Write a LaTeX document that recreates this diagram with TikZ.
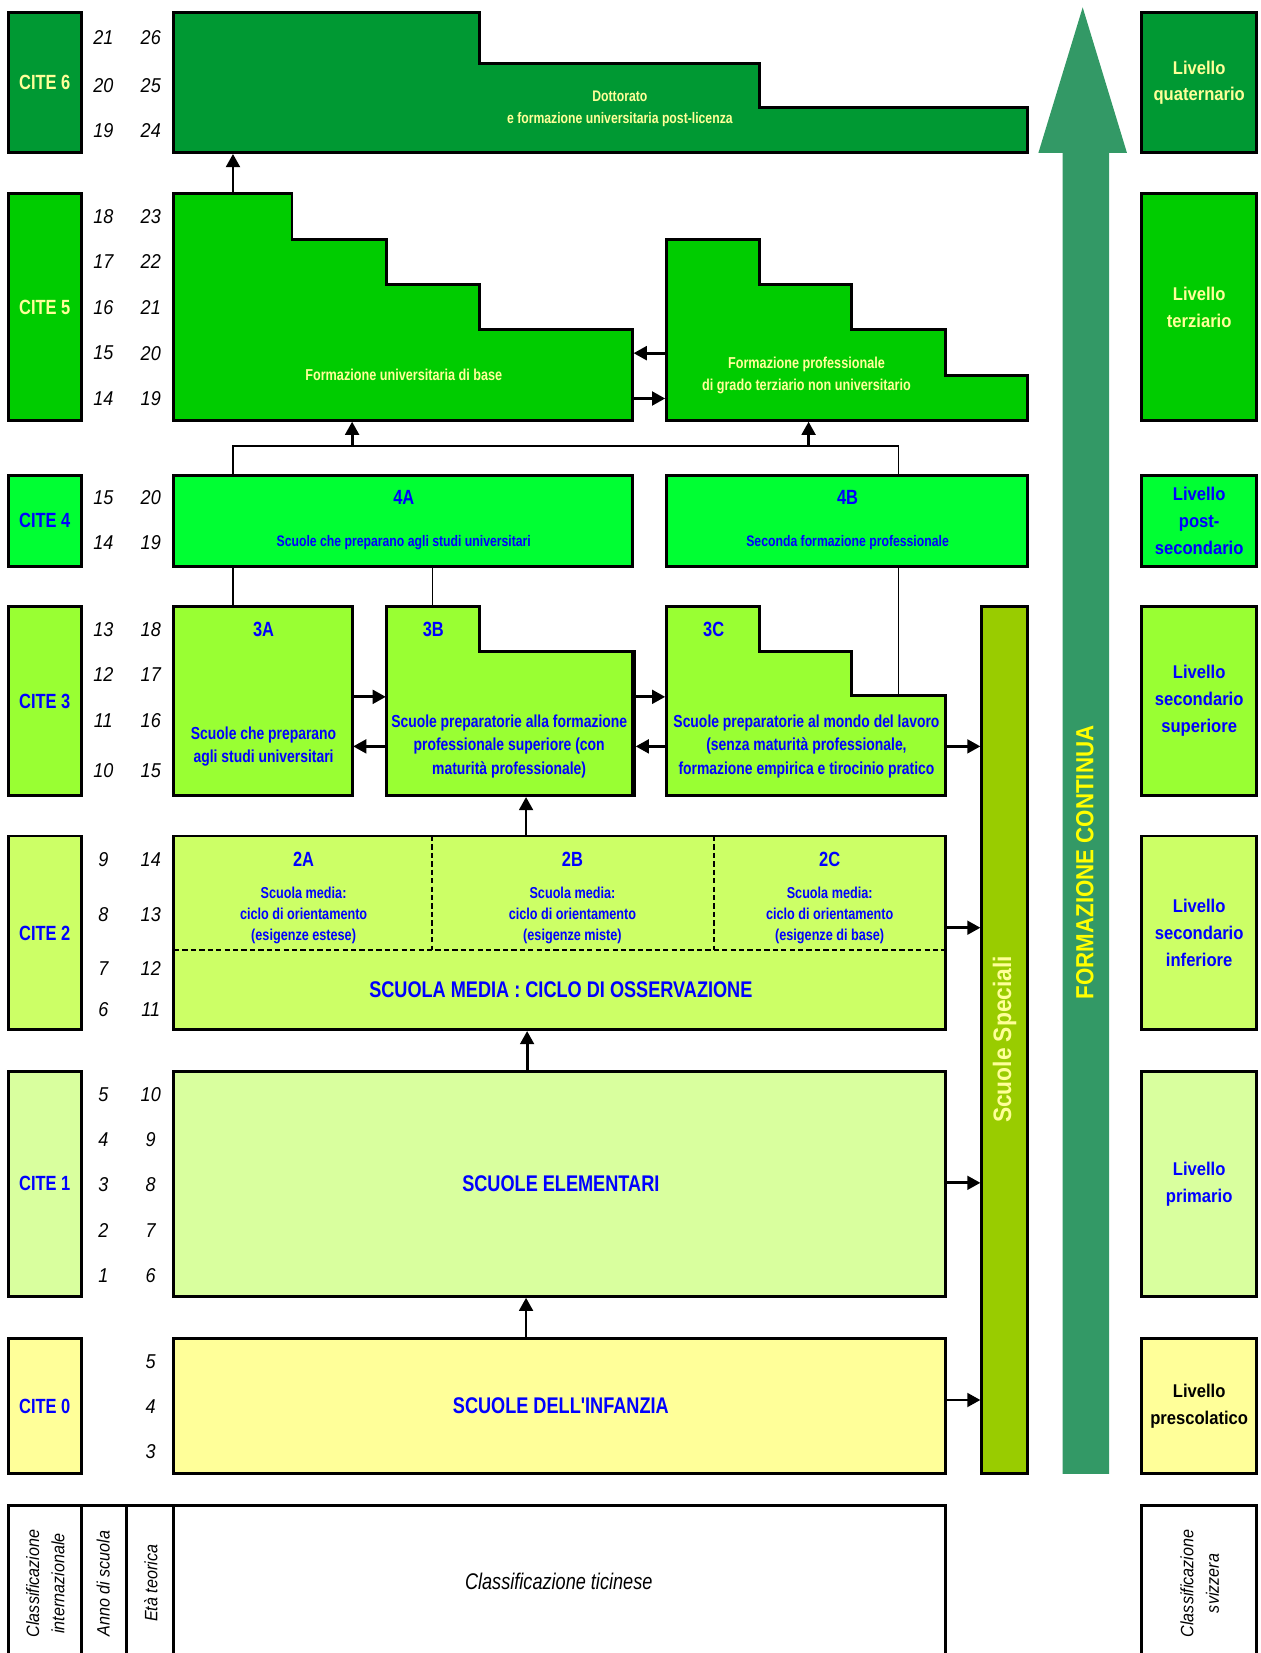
\documentclass[tikz,border=0pt]{standalone}
\usepackage{fontspec}
\setmainfont{Liberation Sans}
\newfontfamily\nf[FakeStretch=0.80]{Liberation Sans}
\newfontfamily\rf[FakeStretch=0.90]{Liberation Sans}
\usetikzlibrary{arrows.meta}
\definecolor{gSix}{RGB}{0,153,51}
\definecolor{gFive}{RGB}{0,204,0}
\definecolor{gFour}{RGB}{0,255,51}
\definecolor{gThree}{RGB}{153,255,51}
\definecolor{gTwo}{RGB}{204,255,102}
\definecolor{gOne}{RGB}{217,255,158}
\definecolor{gZero}{RGB}{255,255,153}
\definecolor{specc}{RGB}{153,204,0}
\definecolor{contc}{RGB}{51,153,102}
\definecolor{ltyel}{RGB}{255,255,153}
\definecolor{yel}{RGB}{255,255,0}
\definecolor{blu}{RGB}{0,0,255}
\newcommand\bxn[7]{%
  \node[#6, minimum width={(#4-#2)*1pt}, minimum height={(#5-#3)*1pt}] (#1) at ({(#2+#4)/2},{(#3+#5)/2}) {#7};}
\begin{document}
\begin{tikzpicture}[x=1pt,y=-1pt,
  cbox/.style={draw, line width=2.8pt, inner sep=0pt, font=\nf\bfseries\fontsize{19.5}{22}\selectfont},
  lbox/.style={draw, line width=2.8pt, inner sep=0pt, align=center, font=\rf\bfseries\fontsize{17.5}{25.5}\selectfont},
  ebox/.style={draw, line width=2.8pt, inner sep=0pt},
  pbox/.style={draw, line width=2.8pt, line join=miter},
  num/.style={font=\rf\itshape\fontsize{19}{22}\selectfont, inner sep=0pt},
  lab/.style={text=blu, font=\nf\bfseries\fontsize{19.5}{22}\selectfont, inner sep=0pt},
  subt/.style={text=blu, align=center, font=\nf\bfseries\fontsize{15}{20}\selectfont, inner sep=0pt},
  midt/.style={text=blu, align=center, font=\nf\bfseries\fontsize{16.5}{22}\selectfont, inner sep=0pt},
  bigt/.style={text=blu, font=\nf\bfseries\fontsize{21.5}{24}\selectfont, inner sep=0pt},
  ytxt/.style={text=ltyel, align=center, font=\nf\bfseries\fontsize{14.5}{20.5}\selectfont, inner sep=0pt},
  arr/.style={line width=2.7pt, -{Triangle[length=12.5pt,width=13pt]}},
  thinl/.style={line width=1.3pt},
  legl/.style={line width=2.8pt, line join=miter},
  legt/.style={align=center, font=\rf\itshape\fontsize{17}{24}\selectfont, inner sep=0pt}
]
\useasboundingbox (0,0) rectangle (1196,1568);

% ---------- CITE boxes (left) ----------
\bxn{c6}{8}{12}{77}{145}{cbox,fill=gSix,text=ltyel}{CITE 6}
\bxn{c5}{8}{184}{77}{399}{cbox,fill=gFive,text=ltyel}{CITE 5}
\bxn{c4}{8}{451}{77}{537}{cbox,fill=gFour,text=blu}{CITE 4}
\bxn{c3}{8}{575}{77}{755}{cbox,fill=gThree,text=blu}{CITE 3}
\bxn{c2}{8}{793}{77}{977}{cbox,fill=gTwo,text=blu}{CITE 2}
\bxn{c1}{8}{1016}{77}{1230}{cbox,fill=gOne,text=blu}{CITE 1}
\bxn{c0}{8}{1270}{77}{1398}{cbox,fill=gZero,text=blu}{CITE 0}

% ---------- years / ages ----------
\foreach \yr/\ag/\p in {21/26/36,20/25/81,19/24/124,
  18/23/205,17/22/248,16/21/292,15/20/335,14/19/378,
  15/20/472,14/19/515,
  13/18/597,12/17/640,11/16/684,10/15/731,
  9/14/815,8/13/868,7/12/919,6/11/958,
  5/10/1038,4/9/1081,3/8/1124,2/7/1167,1/6/1210}{
  \node[num] (yr\p) at (98,\p) {\yr};
  \node[num] (ag\p) at (143,\p) {\ag};
}
\foreach \ag/\p in {5/1292,4/1334,3/1377}{
  \node[num] (ag\p) at (143,\p) {\ag};
}

% ---------- Livello boxes (right) ----------
\bxn{l6}{1083}{12}{1192}{145}{lbox,fill=gSix,text=ltyel}{Livello\\quaternario}
\bxn{l5}{1083}{184}{1192}{399}{lbox,fill=gFive,text=ltyel}{Livello\\terziario}
\bxn{l4}{1083}{451}{1192}{537}{lbox,fill=gFour,text=blu}{Livello\\post-\\secondario}
\bxn{l3}{1083}{575}{1192}{755}{lbox,fill=gThree,text=blu}{Livello\\secondario\\superiore}
\bxn{l2}{1083}{793}{1192}{977}{lbox,fill=gTwo,text=blu}{Livello\\secondario\\inferiore}
\bxn{l1}{1083}{1016}{1192}{1230}{lbox,fill=gOne,text=blu}{Livello\\primario}
\bxn{l0}{1083}{1270}{1192}{1398}{lbox,fill=gZero,text=black}{Livello\\prescolatico}

% ---------- Formazione continua ----------
\fill[contc] (1008,1398) -- (1008,145) -- (985,145) -- (1027,7) -- (1069,145) -- (1052,145) -- (1052,1398) -- cycle;
\node[rotate=90, text=yel, inner sep=0pt, font=\rf\bfseries\fontsize{23.5}{26}\selectfont] (fct) at (1029,818) {FORMAZIONE CONTINUA};

% ---------- CITE 6 ----------
\draw[pbox, fill=gSix] (165,12) -- (455,12) -- (455,60) -- (720,60) -- (720,102) -- (975,102) -- (975,145) -- (165,145) -- cycle;
\node[ytxt] (dott) at (588,103) {Dottorato\\e formazione universitaria post-licenza};

% ---------- CITE 5 ----------
\draw[pbox, fill=gFive] (165,184) -- (277,184) -- (277,227) -- (367,227) -- (367,270) -- (455,270) -- (455,313) -- (600,313) -- (600,399) -- (165,399) -- cycle;
\node[ytxt, font=\nf\bfseries\fontsize{15}{21}\selectfont] (funiv) at (383,356) {Formazione universitaria di base};
\draw[pbox, fill=gFive] (632,227) -- (720,227) -- (720,270) -- (808,270) -- (808,313) -- (897,313) -- (897,356) -- (975,356) -- (975,399) -- (632,399) -- cycle;
\node[ytxt, font=\nf\bfseries\fontsize{15}{21}\selectfont] (fprof) at (765,356) {Formazione professionale\\di grado terziario non universitario};

% ---------- CITE 4 ----------
\bxn{n4a}{165}{451}{600}{537}{ebox,fill=gFour}{}
\bxn{n4b}{632}{451}{975}{537}{ebox,fill=gFour}{}
\node[lab] (t4a) at (383,472) {4A};
\node[subt, font=\nf\bfseries\fontsize{14.5}{20}\selectfont] (s4a) at (383,515) {Scuole che preparano agli studi universitari};
\node[lab] (t4b) at (804,472) {4B};
\node[subt, font=\nf\bfseries\fontsize{14.5}{20}\selectfont] (s4b) at (804,515) {Seconda formazione professionale};

% ---------- CITE 3 ----------
\bxn{n3a}{165}{575}{334}{755}{ebox,fill=gThree}{}
\draw[pbox, fill=gThree] (367,575) -- (455,575) -- (455,618) -- (600,618) -- (600,755) -- (367,755) -- cycle;
\draw[line width=4.6pt] (600.8,617) -- (600.8,756.3);
\draw[pbox, fill=gThree] (632,575) -- (720,575) -- (720,618) -- (808,618) -- (808,660) -- (897,660) -- (897,755) -- (632,755) -- cycle;
\node[lab] (t3a) at (250,597) {3A};
\node[lab] (t3b) at (411,597) {3B};
\node[lab] (t3c) at (677,597) {3C};
\node[midt] (s3a) at (250,708) {Scuole che preparano\\agli studi universitari};
\node[midt] (s3b) at (483,708) {Scuole preparatorie alla formazione\\professionale superiore (con\\maturità professionale)};
\node[midt] (s3c) at (765,708) {Scuole preparatorie al mondo del lavoro\\(senza maturità professionale,\\formazione empirica e tirocinio pratico};

% ---------- CITE 2 ----------
\bxn{n2}{165}{793}{897}{977}{ebox,fill=gTwo}{}
\draw[line width=1.5pt, dash pattern=on 5pt off 3pt] (165,901) -- (897,901);
\draw[line width=1.5pt, dash pattern=on 5pt off 3pt] (410,793) -- (410,901);
\draw[line width=1.5pt, dash pattern=on 5pt off 3pt] (677,793) -- (677,901);
\node[lab] (t2a) at (288,815) {2A};
\node[lab] (t2b) at (543,815) {2B};
\node[lab] (t2c) at (787,815) {2C};
\node[subt] (s2a) at (288,868) {Scuola media:\\ciclo di orientamento\\(esigenze estese)};
\node[subt] (s2b) at (543,868) {Scuola media:\\ciclo di orientamento\\(esigenze miste)};
\node[subt] (s2c) at (787,868) {Scuola media:\\ciclo di orientamento\\(esigenze di base)};
\node[bigt] (oss) at (532,939) {SCUOLA MEDIA : CICLO DI OSSERVAZIONE};

% ---------- CITE 1 / 0 ----------
\bxn{n1}{165}{1016}{897}{1230}{ebox,fill=gOne}{}
\node[bigt] (elem) at (532,1123) {SCUOLE ELEMENTARI};
\bxn{n0}{165}{1270}{897}{1398}{ebox,fill=gZero}{}
\node[bigt] (inf) at (532,1333) {SCUOLE DELL'INFANZIA};

% ---------- Scuole speciali ----------
\bxn{spec}{931}{575}{975}{1398}{ebox,fill=specc}{}
\node[rotate=90, text=ltyel, inner sep=0pt, font=\rf\bfseries\fontsize{24}{26}\selectfont] (spect) at (953,986) {Scuole Speciali};

% ---------- connector coordinates ----------
\coordinate (dotB) at (221,146);
\coordinate (funT) at (221,184);
\coordinate (funR1) at (601,335);
\coordinate (fprL1) at (632,335);
\coordinate (funR2) at (600,378);
\coordinate (fprL2) at (631,378);
\coordinate (brL) at (221,423);
\coordinate (brR) at (852,423);
\coordinate (brU) at (334,423);
\coordinate (brP) at (767,423);
\coordinate (funB) at (334,400);
\coordinate (fprB) at (767,400);
\coordinate (b3T) at (410,575);
\coordinate (b3Tx) at (410,537);
\coordinate (c3S) at (852,660);
\coordinate (aR1) at (334,661);
\coordinate (bL1) at (366,661);
\coordinate (bL2) at (367,708);
\coordinate (aR2) at (335,708);
\coordinate (bR1) at (602,661);
\coordinate (cL1) at (631,661);
\coordinate (cL2) at (632,708);
\coordinate (bR2) at (603,708);
\coordinate (cR) at (897,708);
\coordinate (spC) at (930,708);
\coordinate (b3B) at (499,756);
\coordinate (n2T) at (499,793);
\coordinate (n2R) at (897,880);
\coordinate (spB) at (930,880);
\coordinate (n2B) at (500,978);
\coordinate (n1T) at (500,1016);
\coordinate (n1R) at (897,1122);
\coordinate (spE) at (930,1122);
\coordinate (n1B) at (499,1231);
\coordinate (n0T) at (499,1270);
\coordinate (n0R) at (897,1328);
\coordinate (spI) at (930,1328);

% ---------- connectors ----------
\draw[arr] (funT) -- (dotB);
\draw[arr] (fprL1) -- (funR1);
\draw[arr] (funR2) -- (fprL2);
\draw[thinl] (n4a.north -| brL) -- (brL) -- (brR) -- (n4b.north -| brR);
\draw[arr] (brU) -- (funB);
\draw[arr] (brP) -- (fprB);
\draw[thinl] (n4a.south -| brL) -- (n3a.north -| brL);
\draw[thinl] (b3Tx) -- (b3T);
\draw[thinl] (n4b.south -| brR) -- (c3S);
\draw[arr] (aR1) -- (bL1);
\draw[arr] (bL2) -- (aR2);
\draw[arr] (bR1) -- (cL1);
\draw[arr] (cL2) -- (bR2);
\draw[arr] (cR) -- (spC);
\draw[arr] (n2T) -- (b3B);
\draw[arr] (n2R) -- (spB);
\draw[arr] (n1T) -- (n2B);
\draw[arr] (n1R) -- (spE);
\draw[arr] (n0T) -- (n1B);
\draw[arr] (n0R) -- (spI);

% ---------- legend ----------
\draw[legl] (8,1572) -- (8,1428) -- (897,1428) -- (897,1572);
\draw[legl] (77,1428) -- (77,1572);
\draw[legl] (120,1428) -- (120,1572);
\draw[legl] (165,1428) -- (165,1572);
\draw[legl] (1083,1572) -- (1083,1428) -- (1192,1428) -- (1192,1572);
\node[legt, rotate=90] (lgci) at (43,1502) {Classificazione\\internazionale};
\node[legt, rotate=90] (lgan) at (98,1502) {Anno di scuola};
\node[legt, rotate=90] (lget) at (143,1502) {Età teorica};
\node[inner sep=0pt, font=\nf\itshape\fontsize{21.5}{24}\selectfont] (lgti) at (530,1500) {Classificazione ticinese};
\node[legt, rotate=90] (lgsv) at (1138,1502) {Classificazione\\svizzera};
\end{tikzpicture}
\end{document}
